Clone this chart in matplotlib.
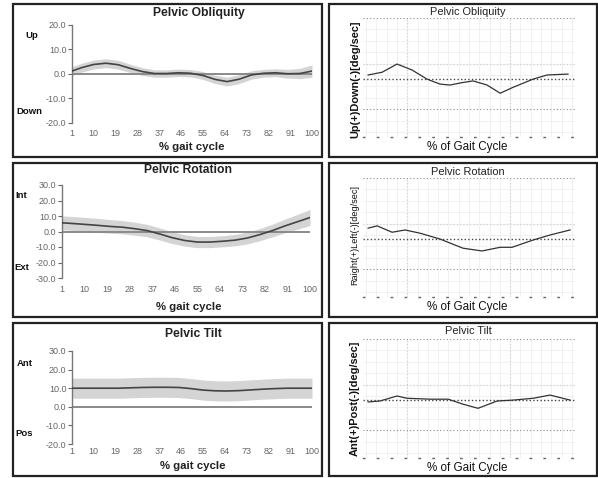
import numpy as np
import matplotlib
matplotlib.use("Agg")
import matplotlib.pyplot as plt
from matplotlib.patches import Rectangle
from matplotlib.ticker import FormatStrFormatter

W, H = 598, 478
plt.rcParams['font.family'] = ['Liberation Sans', 'DejaVu Sans']

# ---------------- data ----------------
gait_ticks = [1, 10, 19, 28, 37, 46, 55, 64, 73, 82, 91, 100]
gait_x = [1, 5, 10, 15, 20, 25, 30, 35, 40, 45, 50, 55, 60, 65, 70, 75, 80, 85, 90, 95, 100]

obl_mean = [1.2, 2.6, 3.9, 4.4, 3.8, 2.3, 1.0, 0.2, 0.2, 0.5, 0.3, -0.6, -2.2, -3.1, -2.1, -0.4, 0.3, 0.5, 0.1, 0.2, 1.2]
obl_sd = [1.8, 1.8, 1.8, 1.8, 1.8, 1.7, 1.6, 1.5, 1.5, 1.5, 1.5, 1.6, 1.7, 1.8, 1.8, 1.7, 1.6, 1.6, 1.8, 2.1, 2.5]

rot_mean = [5.6, 5.2, 4.6, 4.0, 3.3, 2.8, 1.8, 0.6, -1.6, -4.0, -5.8, -6.8, -6.8, -6.3, -5.6, -4.2, -2.0, 0.6, 3.6, 6.3, 9.0]
rot_sd = [4.5, 4.5, 4.5, 4.5, 4.4, 4.3, 4.2, 4.0, 3.9, 3.8, 3.7, 3.6, 3.6, 3.6, 3.7, 3.8, 3.9, 4.1, 4.4, 4.8, 5.2]

tilt_mean = [10.0, 10.0, 10.0, 10.0, 10.0, 10.2, 10.4, 10.5, 10.5, 10.4, 9.8, 9.0, 8.6, 8.5, 8.7, 9.1, 9.5, 9.8, 10.0, 10.0, 10.0]
tilt_sd = [5.4, 5.4, 5.4, 5.4, 5.4, 5.4, 5.4, 5.4, 5.4, 5.4, 5.4, 5.4, 5.4, 5.4, 5.4, 5.4, 5.4, 5.4, 5.4, 5.4, 5.4]

# patient curves (right column)
pobl_x = [1.5, 8.3, 15.6, 22.9, 30.2, 36.6, 41.5, 47.0, 52.7, 59.5, 65.9, 72.2, 82.0, 88.8, 99.0]
pobl_y = [0.9, 1.5, 3.3, 2.0, 0.0, -1.1, -1.3, -0.8, -0.4, -1.3, -3.1, -1.8, 0.0, 0.9, 1.1]

prot_x = [1.5, 5.9, 13.2, 19.5, 26.8, 36.6, 47.8, 57.0, 65.9, 71.7, 82.0, 90.2, 100.0]
prot_y = [2.4, 2.9, 1.5, 2.0, 1.3, 0.0, -2.0, -2.6, -1.8, -1.8, -0.2, 0.9, 2.0]

ptilt_x = [1.5, 7.3, 15.6, 20.5, 31.7, 40.5, 47.8, 55.1, 64.4, 72.2, 82.0, 90.2, 100.0]
ptilt_y = [-0.4, -0.2, 0.9, 0.4, 0.2, 0.2, -0.9, -1.8, -0.2, 0.0, 0.4, 1.1, 0.0]

# ---------------- figure ----------------
fig = plt.figure(figsize=(W / 100, H / 100), dpi=100)


def add_ax(x0, y0, x1, y1):
    return fig.add_axes([x0 / W, 1 - y1 / H, (x1 - x0) / W, (y1 - y0) / H])


def ftext(x, y, s, **kw):
    fig.text(x / W, 1 - y / H, s, ha=kw.pop('ha', 'center'), va=kw.pop('va', 'center'), **kw)


# panel boxes
for (y0, y1) in [(4, 157), (163, 317), (323, 476)]:
    for (x0, x1) in [(13, 322), (329, 596.5)]:
        fig.patches.append(Rectangle((x0 / W, 1 - y1 / H), (x1 - x0) / W, (y1 - y0) / H,
                                     transform=fig.transFigure, fill=False,
                                     edgecolor='#222222', linewidth=1.6))

left_specs = [
    dict(box=(72, 25, 312, 123), ylim=(-20, 20), yticks=[-20, -10, 0, 10, 20], xpad=4,
         mean=obl_mean, sd=obl_sd, title='Pelvic Obliquity', tpos=(199, 13), xlpos=(192, 147),
         side=[('Up', 32, 35), ('Down', 29, 112)]),
    dict(box=(62, 185, 310, 278), ylim=(-30, 30), yticks=[-30, -20, -10, 0, 10, 20, 30], xpad=5,
         mean=rot_mean, sd=rot_sd, title='Pelvic Rotation', tpos=(188, 170), xlpos=(189, 307),
         side=[('Int', 21, 195), ('Ext', 22, 267)]),
    dict(box=(72, 351, 312, 444), ylim=(-20, 30), yticks=[-20, -10, 0, 10, 20, 30], xpad=2,
         mean=tilt_mean, sd=tilt_sd, title='Pelvic Tilt', tpos=(193, 334), xlpos=(193, 466),
         side=[('Ant', 25, 363), ('Pos', 24, 433)]),
]

for sp in left_specs:
    x0, yt, x1, yb = sp['box']
    ax = add_ax(x0, yt, x1, yb)
    m = np.array(sp['mean'])
    s = np.array(sp['sd'])
    ax.fill_between(gait_x, m - s, m + s, color='#d4d4d4', linewidth=0, zorder=1)
    ax.axhline(0, color='#8a8a8a', linewidth=1.4, zorder=2)
    ax.plot(gait_x, m, color='#444444', linewidth=1.2, zorder=3)
    ax.set_xlim(1, 100)
    ax.set_ylim(*sp['ylim'])
    ax.set_yticks(sp['yticks'])
    ax.set_xticks(gait_ticks)
    ax.yaxis.set_major_formatter(FormatStrFormatter('%.1f'))
    for k in ['top', 'right', 'bottom']:
        ax.spines[k].set_visible(False)
    ax.spines['left'].set_color('#777777')
    ax.spines['left'].set_linewidth(1.0)
    ax.tick_params(axis='y', labelsize=6.5, colors='#666666', length=3, width=0.8, pad=1)
    ax.tick_params(axis='x', labelsize=6.5, colors='#666666', length=0, pad=sp['xpad'])
    ax.set_facecolor('none')
    ftext(*sp['tpos'], sp['title'], fontsize=8.7, fontweight='bold', color='#222222')
    ftext(*sp['xlpos'], '% gait cycle', fontsize=8.2, fontweight='bold', color='#222222')
    for (lab, lx, ly) in sp['side']:
        ftext(lx, ly, lab, fontsize=6.8, fontweight='bold', color='#111111')

right_specs = [
    dict(top=18, x=pobl_x, y=pobl_y, title='Pelvic Obliquity', ylab='Up(+)Down(-)[deg/sec]',
         ylw='bold', yfs=7.9, tpos=(468, 12), xlpos=(467, 147), ylpos=(355, 79)),
    dict(top=178, x=prot_x, y=prot_y, title='Pelvic Rotation', ylab='Raight(+)Left(-)[deg/sec]',
         ylw='normal', yfs=6.6, tpos=(468, 172), xlpos=(467, 307), ylpos=(355, 235)),
    dict(top=339, x=ptilt_x, y=ptilt_y, title='Pelvic Tilt', ylab='Ant(+)Post(-)[deg/sec]',
         ylw='bold', yfs=7.9, tpos=(468, 331), xlpos=(467, 468), ylpos=(355, 398)),
]

for sp in right_specs:
    top = sp['top']
    ax = add_ax(363, top, 575, top + 119)
    ax.set_xlim(-1, 102.4)
    ax.set_ylim(-12.7, 13.4)
    ax.set_xticks([20.5, 70.7])
    ax.set_yticks([-6.6, 3.3, 13.35])
    ax.set_xticks(np.arange(0.5, 102, 5.02), minor=True)
    ax.set_yticks(np.arange(-11.6, 13.4, 2.5), minor=True)
    ax.grid(which='minor', color='#ececec', linewidth=0.5, linestyle='-')
    ax.grid(which='major', color='#8c8c8c', linewidth=0.8, linestyle=(0, (1, 2)))
    ax.tick_params(which='both', length=0, labelbottom=False, labelleft=False)
    for k in ['top', 'right', 'left']:
        ax.spines[k].set_visible(False)
    ax.spines['bottom'].set_color('#666666')
    ax.spines['bottom'].set_linestyle((0, (1, 9)))
    ax.spines['bottom'].set_linewidth(1.0)
    ax.axhline(0, color='#444444', linewidth=1.0, linestyle=(0, (1, 1.6)), zorder=2)
    ax.plot(sp['x'], sp['y'], color='#333333', linewidth=0.9, zorder=3)
    ax.set_facecolor('none')
    ftext(*sp['tpos'], sp['title'], fontsize=7.9, color='#222222')
    ftext(*sp['xlpos'], '% of Gait Cycle', fontsize=8.4, color='#111111')
    ftext(*sp['ylpos'], sp['ylab'], fontsize=sp['yfs'], fontweight=sp['ylw'], rotation=90, color='#111111')

fig.savefig('out.png', dpi=100)
